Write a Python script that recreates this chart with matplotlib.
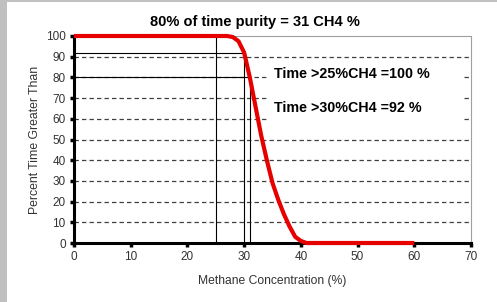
import matplotlib.pyplot as plt
from matplotlib.patches import Rectangle

plt.rcParams["font.family"] = ["Liberation Sans", "DejaVu Sans"]

# methane concentration (%) vs percent of time greater than
CONCENTRATION = [0, 27, 28, 29, 30, 31, 32, 33, 34, 35, 36, 37, 38, 39, 40, 41, 60]
PCT_TIME = [100, 100, 99.5, 97.5, 92, 80, 66, 52, 40, 29, 21, 14, 8, 3, 1, 0, 0]

TITLE = "80% of time purity = 31 CH4 %"
X_LABEL = "Methane Concentration (%)"
Y_LABEL = "Percent Time Greater Than"
X_TICKS = list(range(0, 71, 10))
Y_TICKS = list(range(0, 101, 10))

# reference markers: (x, y) where drop lines are drawn
REF_25 = (25, 100)
REF_30 = (30, 92)
REF_31 = (31, 80)
NOTE_1 = "Time >25%CH4 =100 %"
NOTE_2 = "Time >30%CH4 =92 %"


def main() -> None:
    fig = plt.figure(figsize=(4.97, 3.02), dpi=100, facecolor="#c0c0c0")
    fig.patches.append(Rectangle((7 / 497, 0), 1, 300 / 302, transform=fig.transFigure,
                                 facecolor="white", edgecolor="none", zorder=-10))
    ax = fig.add_axes([74 / 497, 59 / 302, 397 / 497, 207 / 302])
    ax.set_xlim(0, 70)
    ax.set_ylim(0, 100)

    ax.set_xticks(X_TICKS)
    ax.set_yticks(Y_TICKS)
    ax.tick_params(direction="out", length=3, width=2.5, color="black",
                   labelsize=8.5, labelcolor="#333333", pad=3)

    for side in ("left", "bottom"):
        ax.spines[side].set_linewidth(2.2)
        ax.spines[side].set_color("black")
    for side in ("top", "right"):
        ax.spines[side].set_linewidth(0.8)
        ax.spines[side].set_color("#a0a0a0")

    ax.set_axisbelow(True)
    ax.yaxis.grid(True, color="#404040", linewidth=0.9, linestyle=(0, (3.5, 2.5)))
    gridlines = ax.get_ygridlines()
    gridlines[0].set_visible(False)
    gridlines[-1].set_visible(False)

    # drop lines
    for x, y in (REF_25, REF_30, REF_31):
        ax.plot([x, x], [0, y], color="black", linewidth=0.8, zorder=2.5)
    for x, y in (REF_30, REF_31):
        ax.plot([0, x], [y, y], color="black", linewidth=0.8, zorder=2.5)

    ax.plot(CONCENTRATION, PCT_TIME, color="#e60000", linewidth=3, zorder=5,
            clip_on=False, solid_capstyle="butt")

    # annotation boxes
    ax.add_patch(Rectangle((0.489, 0.739), 0.491, 0.135, transform=ax.transAxes,
                           facecolor="white", edgecolor="none", zorder=2))
    ax.add_patch(Rectangle((0.489, 0.580), 0.491, 0.135, transform=ax.transAxes,
                           facecolor="white", edgecolor="none", zorder=2))
    ax.text(0.504, 0.816, NOTE_1, transform=ax.transAxes, fontsize=10.3,
            fontweight="bold", va="center", ha="left", zorder=3)
    ax.text(0.504, 0.650, NOTE_2, transform=ax.transAxes, fontsize=10.3,
            fontweight="bold", va="center", ha="left", zorder=3)

    fig.text(255 / 497, 1 - 22 / 302, TITLE, fontsize=10.5, fontweight="bold",
             ha="center", va="center")
    fig.text(272 / 497, 1 - 281 / 302, X_LABEL, fontsize=8.7, color="#333333",
             ha="center", va="center")
    fig.text(35 / 497, 1 - 140 / 302, Y_LABEL, fontsize=8.8, color="#333333",
             ha="center", va="center", rotation=90)

    fig.savefig("out.png", dpi=100, facecolor=fig.get_facecolor())


if __name__ == "__main__":
    main()
